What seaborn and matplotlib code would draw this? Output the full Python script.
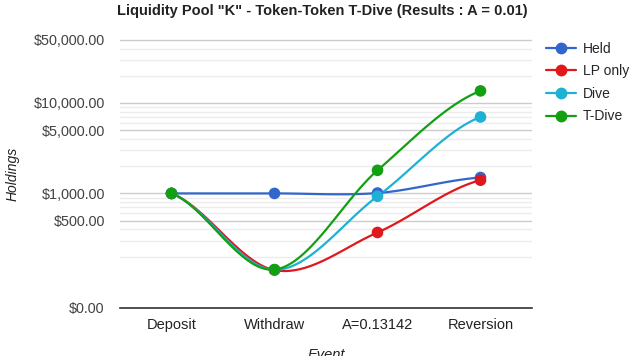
import numpy as np
import pandas as pd
import seaborn as sns
import matplotlib.pyplot as plt
from matplotlib.lines import Line2D
from matplotlib.ticker import FixedLocator, FuncFormatter

# data
events = ['Deposit', 'Withdraw', 'A=0.13142', 'Reversion']
held = [1000, 1000, 1010, 1500]
lp_only = [1000, 142, 370, 1400]
dive = [1000, 143, 930, 7000]
t_dive = [1000, 144, 1800, 13600]

series = ['Held', 'LP only', 'Dive', 'T-Dive']
colors = ['#3366cc', '#e0171b', '#1fb1d3', '#12a012']

major_ticks = [0, 500, 1000, 5000, 10000, 50000]
minor_ticks = [200, 300, 400, 600, 700, 800, 900, 2000, 3000, 4000,
               6000, 7000, 8000, 9000, 20000, 30000, 40000]

df = pd.DataFrame({'Event': events, 'Held': held, 'LP only': lp_only,
                   'Dive': dive, 'T-Dive': t_dive})
long_df = df.melt(id_vars='Event', var_name='Series', value_name='Holdings')
long_df['x'] = long_df['Event'].map({e: i for i, e in enumerate(events)})

sns.set_style('white')
plt.rcParams['font.family'] = ['Liberation Sans', 'DejaVu Sans']

fig = plt.figure(figsize=(6.4, 3.56), dpi=100)
ax = fig.add_axes([120 / 640, 48 / 356, 412 / 640, 272 / 356])
ax.set_yscale('symlog', linthresh=100, linscale=0.24)
ax.set_xlim(-0.5, 3.5)
ax.set_ylim(0, 55000)

ytr = ax.yaxis.get_transform()


def smooth_curve(vals, n=40):
    # cardinal spline in the scaled (symlog) space, like the original chart
    p = ytr.transform(np.asarray(vals, dtype=float))
    m = np.zeros_like(p)
    m[1:-1] = (p[2:] - p[:-2]) / 2
    m[0] = (p[1] - p[0]) / 2
    m[-1] = (p[-1] - p[-2]) / 2
    xs, ys = [], []
    t = np.linspace(0, 1, n)
    h00 = 2 * t**3 - 3 * t**2 + 1
    h10 = t**3 - 2 * t**2 + t
    h01 = -2 * t**3 + 3 * t**2
    h11 = t**3 - t**2
    for i in range(len(p) - 1):
        xs.append(i + t)
        ys.append(h00 * p[i] + h10 * m[i] + h01 * p[i + 1] + h11 * m[i + 1])
    return np.concatenate(xs), ytr.inverted().transform(np.concatenate(ys))


for name, col in zip(series, colors):
    xs, ys = smooth_curve(df[name].values)
    ax.plot(xs, ys, color=col, lw=1.6, zorder=3)

sns.scatterplot(data=long_df, x='x', y='Holdings', hue='Series',
                hue_order=series, palette=colors, s=70, edgecolor='none',
                legend=False, zorder=4, ax=ax)

ax.yaxis.set_major_locator(FixedLocator(major_ticks))
ax.yaxis.set_minor_locator(FixedLocator(minor_ticks))
ax.yaxis.set_major_formatter(FuncFormatter(lambda v, pos: '${:,.2f}'.format(v)))
ax.yaxis.set_minor_formatter(FuncFormatter(lambda v, pos: ''))
ax.grid(True, which='major', axis='y', color='#cccccc', lw=1)
ax.grid(True, which='minor', axis='y', color='#ececec', lw=1)
ax.set_axisbelow(True)

ax.set_xticks(range(len(events)))
ax.set_xticklabels(events)
ax.tick_params(axis='y', which='both', length=0, pad=11, labelsize=10.4,
               labelcolor='#444444')
ax.tick_params(axis='x', length=0, pad=7, labelsize=10.5, labelcolor='#222222')
ax.set_xlabel('')
ax.set_ylabel('')

for s in ['top', 'left', 'right']:
    ax.spines[s].set_visible(False)
ax.spines['bottom'].set_color('#333333')
ax.spines['bottom'].set_linewidth(1.2)

fig.text(322 / 640, 1 - 11 / 356, 'Liquidity Pool "K" - Token-Token T-Dive (Results : A = 0.01)',
         ha='center', va='center', fontsize=10.5, fontweight='bold', color='#222222')
fig.text(13 / 640, 1 - 174 / 356, 'Holdings', rotation=90, ha='center', va='center',
         fontsize=10, style='italic', color='#222222')
fig.text(326 / 640, 8 / 356, 'Event', ha='center', va='top',
         fontsize=10.5, style='italic', color='#222222')

handles = [Line2D([0], [0], color=c, lw=1.6, marker='o', markersize=7.5) for c in colors]
fig.legend(handles, series, loc='upper left', bbox_to_anchor=(540 / 640, 1 - 36 / 356),
           frameon=False, fontsize=10, handlelength=2.2, handletextpad=0.5,
           labelspacing=0.62, borderaxespad=0)

fig.savefig('out.png', dpi=100)
